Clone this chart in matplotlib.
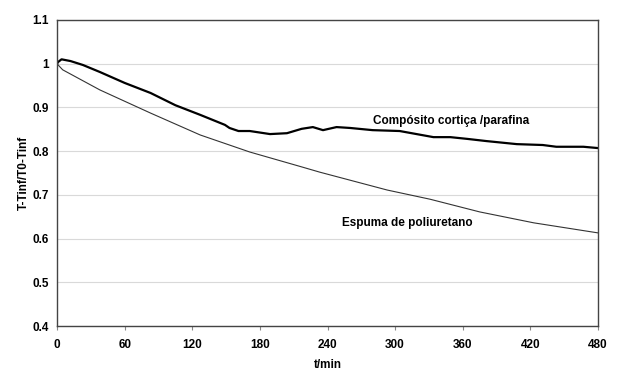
import numpy as np
import matplotlib.pyplot as plt

# data
t_cortica = [0, 1, 4, 12, 23, 38, 60, 83, 105, 127, 149, 153, 161, 171, 189, 204, 217,
             227, 236, 248, 260, 280, 304, 319, 334, 349, 364, 381, 408, 431, 443, 467, 480]
y_cortica = [1.0, 1.004, 1.01, 1.006, 0.997, 0.981, 0.956, 0.933, 0.905, 0.883, 0.86, 0.853,
             0.846, 0.846, 0.839, 0.841, 0.851, 0.855, 0.848, 0.855, 0.853, 0.848, 0.846, 0.839,
             0.832, 0.832, 0.828, 0.823, 0.816, 0.814, 0.81, 0.81, 0.807]

t_espuma = [0, 1, 5, 38, 83, 127, 171, 217, 233, 293, 331, 375, 423, 480]
y_espuma = [1.0, 0.997, 0.986, 0.94, 0.887, 0.837, 0.798, 0.764, 0.752, 0.711, 0.69, 0.661,
            0.636, 0.613]

x_ticks = [0, 60, 120, 180, 240, 300, 360, 420, 480]
y_ticks = [0.4, 0.5, 0.6, 0.7, 0.8, 0.9, 1.0, 1.1]
y_ticklabels = ['0.4', '0.5', '0.6', '0.7', '0.8', '0.9', '1', '1.1']

plt.rcParams['font.family'] = ['Liberation Sans', 'DejaVu Sans']
plt.rcParams['font.weight'] = 'bold'

fig = plt.figure(figsize=(6.2, 3.84), dpi=100)
ax = fig.add_axes([0.092, 0.151, 0.8725, 0.797])

ax.plot(t_cortica, y_cortica, color='black', lw=1.6)
ax.plot(t_espuma, y_espuma, color='#333333', lw=0.8)

ax.set_xlim(0, 480)
ax.set_ylim(0.4, 1.1)
ax.set_xticks(x_ticks)
ax.set_yticks(y_ticks)
ax.set_yticklabels(y_ticklabels)
ax.tick_params(labelsize=8.5, length=3, color='#888888', width=0.8)
ax.tick_params(axis='y', length=0, pad=6)
ax.tick_params(axis='x', pad=6)
ax.yaxis.grid(True, color='#d9d9d9', lw=0.8)
ax.set_axisbelow(True)
for s in ax.spines.values():
    s.set_color('#444444')
    s.set_linewidth(1.0)

ax.set_xlabel('t/min', fontsize=8.5, fontweight='bold', labelpad=6)
ax.set_ylabel('T-Tinf/T0-Tinf', fontsize=8.5, fontweight='bold', labelpad=2)

ax.text(350, 0.868, 'Compósito cortiça /parafina', fontsize=8.5, fontweight='bold',
        ha='center', va='center')
ax.text(311, 0.636, 'Espuma de poliuretano', fontsize=8.5, fontweight='bold',
        ha='center', va='center')

fig.savefig('out.png', dpi=100)
